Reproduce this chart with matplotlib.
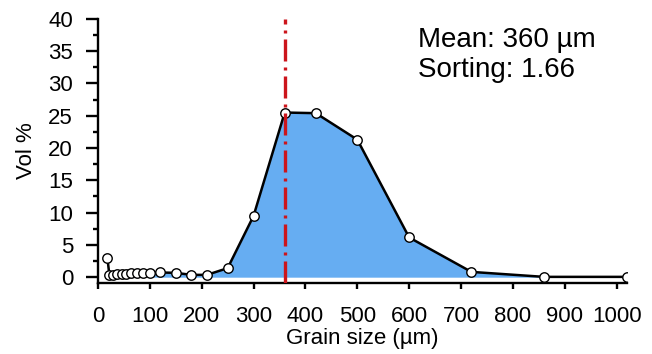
import matplotlib
matplotlib.use("Agg")
import matplotlib.pyplot as plt
from matplotlib.ticker import MultipleLocator, FixedLocator

plt.rcParams['font.family'] = ['Liberation Sans', 'DejaVu Sans']

grain_size = [18, 22, 29, 37, 46, 54, 63, 75, 87, 100, 120, 150, 180, 210,
              250, 300, 360, 420, 500, 600, 720, 860, 1020]
vol_pct = [3.0, 0.36, 0.36, 0.47, 0.5, 0.57, 0.62, 0.67, 0.67, 0.67, 0.73,
           0.67, 0.36, 0.36, 1.4, 9.5, 25.5, 25.4, 21.3, 6.15, 0.82, 0.05, 0.05]
mean_size = 360
sorting = 1.66
x_label = "Grain size (µm)"
y_label = "Vol %"

fig = plt.figure(figsize=(6.52, 3.54), dpi=100)
ax = fig.add_axes([98/652, 1-283/354, (627-98)/652, (283-18.9)/354])

ax.fill_between(grain_size, vol_pct, 0, color='#66adf2', lw=0, zorder=1)
ax.plot(grain_size, vol_pct, color='black', lw=1.8, marker='o', ms=6.8,
        mfc='white', mec='black', mew=1.0, zorder=3)
ax.axvline(mean_size, color='#cc151c', lw=2.4, ls=(0, (6.6, 1.8, 0.9, 1.8)), zorder=5)

ax.set_xlim(0, 1020)
ax.set_ylim(-0.9, 40)

for s in ['top', 'right']:
    ax.spines[s].set_visible(False)
for s in ['left', 'bottom']:
    ax.spines[s].set_linewidth(1.7)

ax.set_yticks(range(0, 41, 5))
ax.set_xticks(range(0, 1001, 100))
ax.xaxis.set_minor_locator(FixedLocator([0, 500, 1000]))
ax.yaxis.set_minor_locator(MultipleLocator(2.5))

ax.tick_params(axis='x', which='major', length=4.5, width=1.7, labelsize=16, pad=12)
ax.tick_params(axis='x', which='minor', length=9, width=1.7)
ax.tick_params(axis='y', which='major', length=9, width=1.7, labelsize=16, pad=9)
ax.tick_params(axis='y', which='minor', length=3.8, width=1.7)

ax.set_xlabel(x_label, fontsize=16, labelpad=1)
ax.set_ylabel(y_label, fontsize=16)
ax.yaxis.set_label_coords(-0.115, 0.5)

fig.text(418/652, 1-46.7/354, f"Mean: {mean_size} µm", fontsize=20, va='baseline', ha='left')
fig.text(418/652, 1-77/354, f"Sorting: {sorting}", fontsize=20, va='baseline', ha='left')

fig.savefig("out.png", dpi=100)
